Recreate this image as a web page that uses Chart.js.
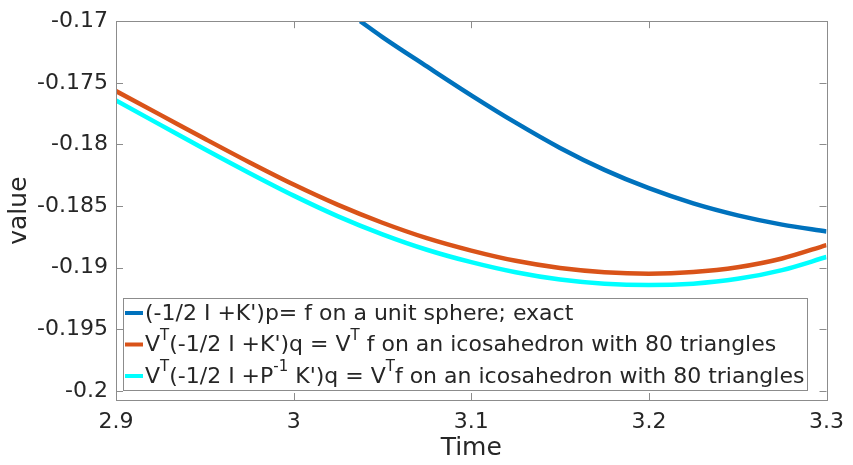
<!DOCTYPE html>
<html>
<head>
<meta charset="utf-8">
<script src="https://cdn.jsdelivr.net/npm/chart.js@4.4.0/dist/chart.umd.min.js"></script>
<style>
  body { margin: 0; background: #fff; }
  #wrap { width: 853px; height: 465px; }
</style>
</head>
<body>
<div id="wrap"><canvas id="myChart" width="853" height="465"></canvas></div>
<script>
// time samples
const times = [2.9, 2.925, 2.95, 2.975, 3.0, 3.025, 3.05, 3.075, 3.1, 3.125, 3.15, 3.175, 3.2, 3.225, 3.25, 3.275, 3.3];
const exactTimes = [3.0375, 3.05, 3.075, 3.1, 3.125, 3.15, 3.175, 3.2, 3.225, 3.25, 3.275, 3.3];

// series values
const exact = [-0.17000, -0.17129, -0.17367, -0.17601, -0.17823, -0.18028, -0.18206, -0.18355, -0.18478, -0.18575, -0.18650, -0.18706];
const icosa = [-0.17567, -0.17760, -0.17954, -0.18144, -0.18325, -0.18490, -0.18635, -0.18760, -0.18861, -0.18944, -0.19002, -0.19036, -0.19048, -0.19035, -0.18996, -0.18925, -0.18816];
const icosaPre = [-0.17643, -0.17841, -0.18039, -0.18231, -0.18415, -0.18583, -0.18729, -0.18854, -0.18955, -0.19037, -0.19096, -0.19130, -0.19141, -0.19129, -0.19090, -0.19019, -0.18913];

// tick labels
const xTicks = [2.9, 3.0, 3.1, 3.2, 3.3];
const yTicks = [-0.2, -0.195, -0.19, -0.185, -0.18, -0.175, -0.17];

// legend labels, split into normal / superscript pieces
const legendParts = [
    [["(-1/2 I +K')p= f on a unit sphere; exact"]],
    [["V"], ["T", 1], ["(-1/2 I +K')q = V"], ["T", 1], [" f on an icosahedron with 80 triangles"]],
    [["V"], ["T", 1], ["(-1/2 I +P"], ["-1", 1], [" K')q = V"], ["T", 1], ["f on an icosahedron with 80 triangles"]]
];

const colors = ['#0072BD', '#D95319', '#00FFFF'];
const textColor = '#262626';
const axisColor = '#8c8c8c';
const fontFam = "'DejaVu Sans', sans-serif";

function pts(xs, ys) {
    return xs.map((x, i) => ({ x: x, y: ys[i] }));
}

function fmt(v) {
    return String(Number(Number(v).toFixed(3)));
}

// inward tick marks on all four sides + box
const boxTicks = {
    id: 'boxTicks',
    afterDraw(chart) {
        const ctx = chart.ctx;
        const a = chart.chartArea;
        const xs = chart.scales.x, ys = chart.scales.y;
        const len = 7;
        ctx.save();
        ctx.strokeStyle = axisColor;
        ctx.lineWidth = 1;
        ctx.beginPath();
        xTicks.forEach(v => {
            const px = Math.round(xs.getPixelForValue(v)) + 0.5;
            ctx.moveTo(px, a.bottom); ctx.lineTo(px, a.bottom - len);
            ctx.moveTo(px, a.top); ctx.lineTo(px, a.top + len);
        });
        yTicks.forEach(v => {
            const py = Math.round(ys.getPixelForValue(v)) + 0.5;
            ctx.moveTo(a.left, py); ctx.lineTo(a.left + len, py);
            ctx.moveTo(a.right, py); ctx.lineTo(a.right - len, py);
        });
        ctx.stroke();
        ctx.strokeRect(Math.round(a.left) + 0.5, Math.round(a.top) + 0.5, Math.round(a.right - a.left), Math.round(a.bottom - a.top));
        ctx.restore();
    }
};

// legend box inside the plot, bottom left
const innerLegend = {
    id: 'innerLegend',
    afterDraw(chart) {
        const ctx = chart.ctx;
        const a = chart.chartArea;
        const big = 22, small = 15;
        ctx.save();
        const widthOf = parts => parts.reduce((w, p) => {
            ctx.font = (p[1] ? small : big) + 'px ' + fontFam;
            return w + ctx.measureText(p[0]).width;
        }, 0);
        const maxW = Math.max(...legendParts.map(widthOf));
        const left = a.left + 7;
        const bottom = a.bottom - 10;
        const rowH = 31.5;
        const h = 92;
        const top = bottom - h;
        const w = 22 + maxW + 3;
        ctx.fillStyle = '#fff';
        ctx.fillRect(left, top, w, h);
        ctx.strokeStyle = axisColor;
        ctx.lineWidth = 1;
        ctx.strokeRect(Math.round(left) + 0.5, Math.round(top) + 0.5, Math.round(w), Math.round(h));
        legendParts.forEach((parts, i) => {
            const cy = top + 16 + i * rowH;
            ctx.strokeStyle = colors[i];
            ctx.lineWidth = 4;
            ctx.beginPath();
            ctx.moveTo(left + 2, cy - 1);
            ctx.lineTo(left + 20, cy - 1);
            ctx.stroke();
            let x = left + 22;
            ctx.fillStyle = textColor;
            ctx.textBaseline = 'middle';
            ctx.textAlign = 'left';
            parts.forEach(p => {
                ctx.font = (p[1] ? small : big) + 'px ' + fontFam;
                ctx.fillText(p[0], x, p[1] ? cy - 9.5 : cy);
                x += ctx.measureText(p[0]).width;
            });
        });
        ctx.restore();
    }
};

const ctx = document.getElementById('myChart').getContext('2d');
const chart = new Chart(ctx, {
    type: 'line',
    data: {
        datasets: [
            {
                label: "(-1/2 I +K')p= f on a unit sphere; exact",
                data: pts(exactTimes, exact),
                borderColor: colors[0],
            },
            {
                label: "V\u1D40(-1/2 I +K')q = V\u1D40 f on an icosahedron with 80 triangles",
                data: pts(times, icosa),
                borderColor: colors[1],
            },
            {
                label: "V\u1D40(-1/2 I +P\u207B\u00B9 K')q = V\u1D40f on an icosahedron with 80 triangles",
                data: pts(times, icosaPre),
                borderColor: colors[2],
            }
        ]
    },
    options: {
        responsive: false,
        animation: false,
        layout: { padding: { top: 19, right: 21, left: 0, bottom: 0 } },
        elements: {
            point: { radius: 0 },
            line: { borderWidth: 4.5, cubicInterpolationMode: 'monotone', fill: false }
        },
        plugins: {
            legend: { display: false },
            tooltip: { enabled: false }
        },
        scales: {
            x: {
                type: 'linear',
                min: 2.9,
                max: 3.3,
                afterBuildTicks: s => { s.ticks = xTicks.map(v => ({ value: v })); },
                afterFit: s => { s.height = 65; },
                grid: { display: false, drawTicks: false },
                border: { display: false },
                ticks: {
                    callback: v => fmt(v),
                    color: textColor,
                    font: { family: fontFam, size: 22 },
                    padding: 9,
                    maxRotation: 0
                },
                title: {
                    display: true,
                    text: 'Time',
                    color: textColor,
                    font: { family: fontFam, size: 25 },
                    padding: { top: 0, bottom: 2 }
                }
            },
            y: {
                type: 'linear',
                min: -0.20073,
                max: -0.17,
                afterBuildTicks: s => { s.ticks = yTicks.map(v => ({ value: v })); },
                afterFit: s => { s.width = 116; },
                grid: { display: false, drawTicks: false },
                border: { display: false },
                ticks: {
                    callback: v => fmt(v),
                    color: textColor,
                    font: { family: fontFam, size: 22 },
                    padding: 8
                },
                title: {
                    display: true,
                    text: 'value',
                    color: textColor,
                    font: { family: fontFam, size: 25 },
                    padding: { top: 4, bottom: 4 }
                }
            }
        }
    },
    plugins: [boxTicks, innerLegend]
});
</script>
</body>
</html>
